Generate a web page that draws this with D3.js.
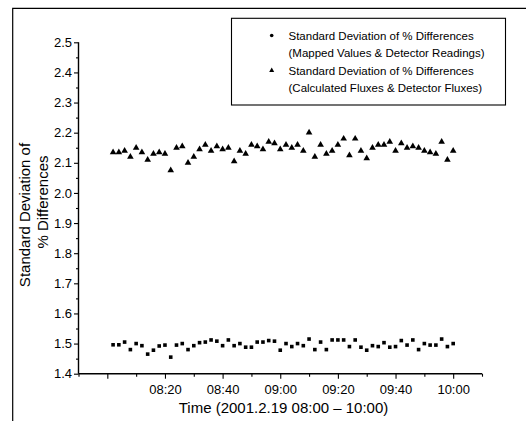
<!DOCTYPE html>
<html>
<head>
<meta charset="utf-8">
<script src="https://cdn.jsdelivr.net/npm/d3@7"></script>
<style>
  body { margin: 0; background: #fff; }
  svg { display: block; font-family: "Liberation Sans", Arial, sans-serif; }
</style>
</head>
<body>
<div id="main"></div>
<script>
// minutes after 08:00, every 2 minutes from 08:02 to 10:00
const minutes = d3.range(2, 121, 2);

// Std dev of % differences, calculated fluxes vs detector fluxes (triangles)
const fluxValues = [
  2.135, 2.135, 2.14, 2.12, 2.15, 2.135, 2.11, 2.13, 2.135, 2.13,
  2.075, 2.15, 2.155, 2.10, 2.12, 2.145, 2.16, 2.14, 2.155, 2.145,
  2.15, 2.105, 2.14, 2.13, 2.16, 2.155, 2.145, 2.17, 2.165, 2.145,
  2.16, 2.15, 2.16, 2.14, 2.20, 2.12, 2.16, 2.13, 2.14, 2.16,
  2.18, 2.125, 2.18, 2.14, 2.115, 2.15, 2.16, 2.16, 2.17, 2.14,
  2.165, 2.15, 2.155, 2.15, 2.14, 2.135, 2.13, 2.17, 2.11, 2.14
];

// Std dev of % differences, mapped values vs detector readings (squares)
const mappedValues = [
  1.496, 1.496, 1.505, 1.48, 1.50, 1.493, 1.465, 1.478, 1.492, 1.495,
  1.455, 1.495, 1.50, 1.48, 1.493, 1.503, 1.505, 1.512, 1.508, 1.493,
  1.512, 1.493, 1.50, 1.488, 1.488, 1.505, 1.505, 1.51, 1.508, 1.478,
  1.50, 1.49, 1.50, 1.493, 1.515, 1.48, 1.505, 1.48, 1.512, 1.512,
  1.512, 1.49, 1.512, 1.488, 1.478, 1.493, 1.49, 1.503, 1.488, 1.49,
  1.51, 1.495, 1.512, 1.48, 1.50, 1.495, 1.495, 1.515, 1.49, 1.50
];

const yTicks = [1.4, 1.5, 1.6, 1.7, 1.8, 1.9, 2.0, 2.1, 2.2, 2.3, 2.4, 2.5];
const xTickMinutes = [0, 20, 40, 60, 80, 100, 120];
const xTickLabels = ["", "08:20", "08:40", "09:00", "09:20", "09:40", "10:00"];

const legendLabels = [
  ["Standard Deviation of % Differences", "(Mapped Values & Detector Readings)"],
  ["Standard Deviation of % Differences", "(Calculated Fluxes & Detector Fluxes)"]
];

const ctx = { WIDTH: 526, HEIGHT: 421 };

function toDate(m) {
  return new Date(2001, 1, 19, 8, m);
}

function createViz() {
  const svg = d3.select("#main").append("svg")
      .attr("width", ctx.WIDTH)
      .attr("height", ctx.HEIGHT);

  // outer figure frame (partly cropped)
  svg.append("path")
      .attr("d", "M12.7,421V8.3H526")
      .attr("fill", "none")
      .attr("stroke", "#000")
      .attr("stroke-width", 1.2);

  const x = d3.scaleTime()
      .domain([toDate(-10), toDate(130)])
      .range([78.5, 482]);
  const y = d3.scaleLinear()
      .domain([1.4, 2.5])
      .range([373.7, 42.3]);

  // y axis: minor ticks every 0.05, major every 0.1
  const minorY = d3.range(1.45, 2.5, 0.1);
  svg.append("g")
      .attr("transform", "translate(78.5,0)")
      .call(d3.axisLeft(y).tickValues(minorY).tickSize(2.5).tickFormat(""))
      .call(g => g.select(".domain").remove());
  const yAxis = svg.append("g")
      .attr("transform", "translate(78.5,0)")
      .call(d3.axisLeft(y).tickValues(yTicks).tickSize(4.5).tickPadding(2)
          .tickFormat(d3.format(".1f")));
  yAxis.select(".domain").attr("d", "M0,42.3V373.7");

  // x axis
  const minorX = [-10, 10, 30, 50, 70, 90, 110, 130].map(toDate);
  svg.append("g")
      .attr("transform", "translate(0,373.7)")
      .call(d3.axisBottom(x).tickValues(minorX).tickSize(3).tickFormat(""))
      .call(g => g.select(".domain").remove());
  const xAxis = svg.append("g")
      .attr("transform", "translate(0,373.7)")
      .call(d3.axisBottom(x).tickValues(xTickMinutes.map(toDate)).tickSize(5).tickPadding(6.5)
          .tickFormat((d, i) => xTickLabels[i]));
  xAxis.select(".domain").attr("d", "M78.5,0H482");

  svg.selectAll(".tick text")
      .attr("font-size", 13)
      .attr("font-family", "Liberation Sans, Arial, sans-serif")
      .attr("fill", "#000");
  svg.selectAll(".tick line").attr("stroke", "#000").attr("stroke-width", 1.1);
  svg.selectAll(".domain").attr("stroke", "#000").attr("stroke-width", 1.4);

  // axis titles
  svg.append("text")
      .attr("x", 283.5).attr("y", 412.5)
      .attr("text-anchor", "middle")
      .attr("font-size", 15)
      .text("Time (2001.2.19 08:00 \u2013 10:00)");
  svg.append("text")
      .attr("transform", "translate(29.5,215) rotate(-90)")
      .attr("text-anchor", "middle")
      .attr("font-size", 15)
      .text("Standard Deviation of");
  svg.append("text")
      .attr("transform", "translate(48,202) rotate(-90)")
      .attr("text-anchor", "middle")
      .attr("font-size", 15)
      .text("% Differences");

  const square = d3.symbol().type(d3.symbolSquare).size(13);
  const triangle = d3.symbol().type(d3.symbolTriangle).size(19);

  svg.append("g")
    .selectAll("path")
    .data(mappedValues)
    .join("path")
      .attr("d", square)
      .attr("transform", (d, i) => `translate(${x(toDate(minutes[i]))},${y(d)})`)
      .attr("fill", "#000");

  svg.append("g")
    .selectAll("path")
    .data(fluxValues)
    .join("path")
      .attr("d", triangle)
      .attr("transform", (d, i) => `translate(${x(toDate(minutes[i]))},${y(d)})`)
      .attr("fill", "#000");

  // legend
  const legend = svg.append("g");
  legend.append("rect")
      .attr("x", 231.5).attr("y", 18.3)
      .attr("width", 274).attr("height", 86.7)
      .attr("fill", "#fff")
      .attr("stroke", "#000")
      .attr("stroke-width", 1.1);
  legend.append("circle")
      .attr("cx", 271.7).attr("cy", 35.5).attr("r", 1.8)
      .attr("fill", "#000");
  legend.append("path")
      .attr("d", d3.symbol().type(d3.symbolTriangle).size(11)())
      .attr("transform", "translate(271.7,70.5)")
      .attr("fill", "#000");
  legendLabels.forEach((lines, k) => {
    lines.forEach((t, j) => {
      legend.append("text")
          .attr("x", 288.5)
          .attr("y", 39.8 + k * 35 + j * 17.6)
          .attr("font-size", 11.5)
          .text(t);
    });
  });
}

createViz();
</script>
</body>
</html>
